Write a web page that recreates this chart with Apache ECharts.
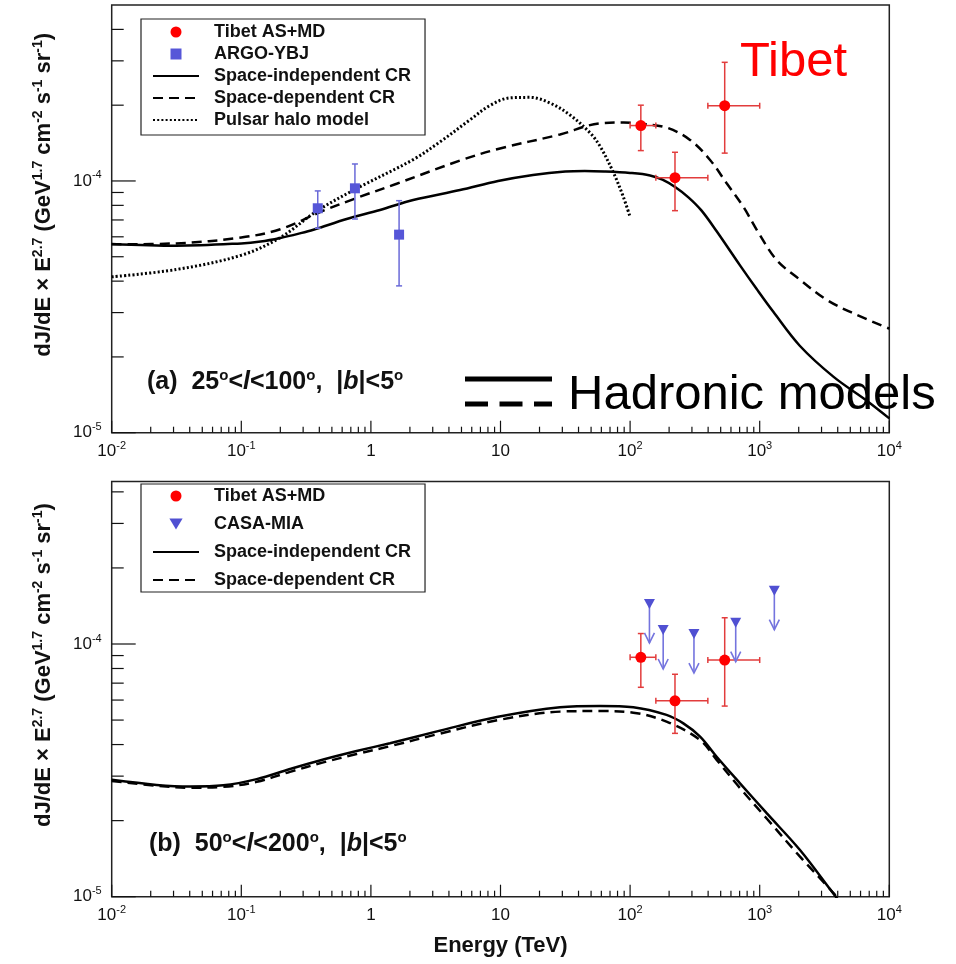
<!DOCTYPE html>
<html><head><meta charset="utf-8">
<script src="https://cdn.jsdelivr.net/npm/echarts@6/dist/echarts.min.js"></script>
<style>html,body{margin:0;padding:0;background:#fff}#c{width:956px;height:964px}</style>
</head><body><div id="c"></div>
<script>
// ---------- Panel (a) data ----------
const aTibetE   = [121, 222, 537];
const aTibetElo = [100, 158, 398];
const aTibetEhi = [158, 398, 1000];
const aTibetF   = [1.66e-4, 1.03e-4, 1.99e-4];
const aTibetFlo = [1.32e-4, 7.62e-5, 1.29e-4];
const aTibetFhi = [2.00e-4, 1.30e-4, 2.96e-4];

const argoE   = [0.389, 0.753, 1.65];
const argoF   = [7.79e-5, 9.35e-5, 6.12e-5];
const argoFlo = [6.49e-5, 7.06e-5, 3.83e-5];
const argoFhi = [9.13e-5, 1.168e-4, 8.35e-5];

const aSolidE = [0.01, 0.0316, 0.1, 0.141, 0.2, 0.282, 0.36, 0.65, 1.175, 2.12, 4.87, 9.57, 17.8, 31.6, 44.7, 63.1, 100, 142.6, 177.8, 223.9, 281.8, 354.8, 465.6, 704.7, 948, 1274, 2046, 3698, 6699, 10000];
const aSolidF = [5.62e-5, 5.53e-5, 5.65e-5, 5.75e-5, 5.94e-5, 6.19e-5, 6.40e-5, 7.06e-5, 7.67e-5, 8.40e-5, 9.20e-5, 1.0e-4, 1.057e-4, 1.091e-4, 1.096e-4, 1.091e-4, 1.076e-4, 1.052e-4, 1.012e-4, 9.44e-5, 8.61e-5, 7.64e-5, 6.31e-5, 4.62e-5, 3.72e-5, 3.02e-5, 2.21e-5, 1.67e-5, 1.34e-5, 1.14e-5];

const aDashE = [0.01, 0.0316, 0.1, 0.2, 0.43, 0.777, 1.58, 4.87, 9.57, 28.8, 58.6, 89.1, 120.8, 191, 290, 414, 556, 746, 971, 1352, 2046, 3289, 5272, 10000];
const aDashF = [5.60e-5, 5.65e-5, 5.96e-5, 6.43e-5, 7.62e-5, 8.56e-5, 9.75e-5, 1.205e-4, 1.34e-4, 1.53e-4, 1.694e-4, 1.706e-4, 1.687e-4, 1.63e-4, 1.456e-4, 1.212e-4, 9.79e-5, 7.91e-5, 6.27e-5, 4.85e-5, 4.05e-5, 3.37e-5, 2.98e-5, 2.59e-5];

const aDotE = [0.01, 0.0316, 0.1, 0.2, 0.382, 0.776, 2.12, 3.41, 5.82, 8.30, 11.8, 16.9, 24.1, 34.4, 49.1, 58.6, 74.1, 88.5, 99.8];
const aDotF = [4.16e-5, 4.45e-5, 5.07e-5, 5.96e-5, 7.59e-5, 9.33e-5, 1.216e-4, 1.429e-4, 1.750e-4, 1.995e-4, 2.138e-4, 2.148e-4, 2.04e-4, 1.828e-4, 1.552e-4, 1.374e-4, 1.084e-4, 8.67e-5, 7.21e-5];

// ---------- Panel (b) data ----------
const bTibetE   = [121, 222, 537];
const bTibetElo = [100, 158, 398];
const bTibetEhi = [158, 398, 1000];
const bTibetF   = [8.86e-5, 5.96e-5, 8.64e-5];
const bTibetFlo = [6.74e-5, 4.43e-5, 5.68e-5];
const bTibetFhi = [1.10e-4, 7.59e-5, 1.27e-4];

const casaE = [141, 180, 311, 653, 1297];
const casaF = [1.44e-4, 1.136e-4, 1.095e-4, 1.214e-4, 1.625e-4];

const bSolidE = [0.01, 0.0222, 0.0402, 0.0726, 0.1315, 0.2377, 0.4295, 0.776, 1.403, 3.41, 9.57, 28.8, 58.6, 105.9, 191, 257.6, 346.7, 465.6, 704.7, 1132, 2046, 3698, 4467];
const bSolidF = [2.90e-5, 2.77e-5, 2.73e-5, 2.76e-5, 2.92e-5, 3.20e-5, 3.49e-5, 3.77e-5, 4.05e-5, 4.54e-5, 5.15e-5, 5.62e-5, 5.69e-5, 5.62e-5, 5.24e-5, 4.85e-5, 4.30e-5, 3.58e-5, 2.81e-5, 2.14e-5, 1.53e-5, 1.03e-5, 9.1e-6];

const bDashE = [0.01, 0.0222, 0.0402, 0.0726, 0.1315, 0.2377, 0.4295, 0.776, 1.403, 3.41, 9.57, 28.8, 58.6, 105.9, 191, 346.7, 465.6, 704.7, 1132, 2046, 3926, 4786];
const bDashF = [2.87e-5, 2.75e-5, 2.70e-5, 2.72e-5, 2.85e-5, 3.12e-5, 3.40e-5, 3.67e-5, 3.94e-5, 4.42e-5, 5.00e-5, 5.40e-5, 5.43e-5, 5.35e-5, 4.93e-5, 4.17e-5, 3.48e-5, 2.69e-5, 2.04e-5, 1.44e-5, 1.0e-5, 8.7e-6];

// ---------- axes / ticks ----------
const xMin = 0.01, xMax = 1e4;
const yMin = 1e-5, yMaxA = 5e-4, yMaxB = 4.4e-4;
const xDecades = [0.01, 0.1, 1, 10, 100, 1000, 10000];
const yDecades = [1e-5, 1e-4];
const minorMult = [2, 3, 4, 5, 6, 7, 8, 9];

const FONT = '"Liberation Sans", Arial, Helvetica, sans-serif';

function pairs(xs, ys) { return xs.map((x, i) => [x, ys[i]]); }
function errData(xs, xl, xh, ys, yl, yh) { return xs.map((x, i) => [x, ys[i], xl[i], xh[i], yl[i], yh[i]]); }

function xTickData(yv) {
  const out = [];
  xDecades.forEach((d, i) => {
    out.push([d, yv, 1]);
    if (i < xDecades.length - 1) minorMult.forEach(m => out.push([m * d, yv, 0]));
  });
  return out;
}
function yTickData(ymax) {
  const out = [];
  yDecades.forEach(d => {
    out.push([xMin, d, 1]);
    minorMult.forEach(m => { if (m * d < ymax * 0.999) out.push([xMin, m * d, 0]); });
  });
  return out;
}

function xTickRender(params, api) {
  const cs = params.coordSys;
  const x = api.coord([api.value(0), api.value(1)])[0];
  const yb = cs.y + cs.height;
  const len = api.value(2) ? 12 : 6;
  return { type: 'line', shape: { x1: x, y1: yb, x2: x, y2: yb - len }, style: { stroke: '#111', lineWidth: 1.2 } };
}
function yTickRender(params, api) {
  const cs = params.coordSys;
  const y = api.coord([api.value(0), api.value(1)])[1];
  const xl = cs.x;
  const len = api.value(2) ? 24 : 12;
  return { type: 'line', shape: { x1: xl, y1: y, x2: xl + len, y2: y }, style: { stroke: '#111', lineWidth: 1.2 } };
}

function errRender(color, cap) {
  return function (params, api) {
    const x = api.value(0), y = api.value(1);
    const xl = api.value(2), xh = api.value(3), yl = api.value(4), yh = api.value(5);
    const c = api.coord([x, y]);
    const pl = api.coord([x, yl]), ph = api.coord([x, yh]);
    const st = { stroke: color, lineWidth: 1.5 };
    const ch = [
      { type: 'line', shape: { x1: c[0], y1: pl[1], x2: c[0], y2: ph[1] }, style: st },
      { type: 'line', shape: { x1: c[0] - cap, y1: pl[1], x2: c[0] + cap, y2: pl[1] }, style: st },
      { type: 'line', shape: { x1: c[0] - cap, y1: ph[1], x2: c[0] + cap, y2: ph[1] }, style: st }
    ];
    if (xh > xl) {
      const ql = api.coord([xl, y]), qh = api.coord([xh, y]);
      ch.push({ type: 'line', shape: { x1: ql[0], y1: c[1], x2: qh[0], y2: c[1] }, style: st });
      ch.push({ type: 'line', shape: { x1: ql[0], y1: c[1] - cap, x2: ql[0], y2: c[1] + cap }, style: st });
      ch.push({ type: 'line', shape: { x1: qh[0], y1: c[1] - cap, x2: qh[0], y2: c[1] + cap }, style: st });
    }
    return { type: 'group', children: ch };
  };
}
function arrowRender(params, api) {
  const c = api.coord([api.value(0), api.value(1)]);
  const st = { stroke: '#7474de', lineWidth: 1.6 };
  const L = 39;
  return { type: 'group', children: [
    { type: 'line', shape: { x1: c[0], y1: c[1], x2: c[0], y2: c[1] + L }, style: st },
    { type: 'polyline', shape: { points: [[c[0] - 5, c[1] + L - 10], [c[0], c[1] + L], [c[0] + 5, c[1] + L - 10]] }, style: Object.assign({ fill: null }, st) }
  ] };
}

function expFmt(v) {
  const lg = Math.log10(v);
  const e = Math.round(lg);
  if (Math.abs(lg - e) > 1e-6) return '';
  if (e === 0) return '1';
  if (e === 1) return '10';
  return '10{sup|' + e + '}';
}

const labelStyle = {
  formatter: expFmt, fontFamily: FONT, fontSize: 17, color: '#111', lineHeight: 22,
  rich: { sup: { fontFamily: FONT, fontSize: 11, color: '#111', verticalAlign: 'top', lineHeight: 22 } }
};

const yName = 'dJ/dE × E{sup|2.7} (GeV{sup|1.7} cm{sup|-2} s{sup|-1} sr{sup|-1})';
const yNameStyle = {
  fontFamily: FONT, fontSize: 22, fontWeight: 'bold', color: '#111', lineHeight: 26, padding: [0, 0, 0, 48],
  rich: { sup: { fontFamily: FONT, fontSize: 14, fontWeight: 'bold', color: '#111', verticalAlign: 'top', lineHeight: 26 } }
};

function xAxisCfg(gi, withName) {
  const a = {
    type: 'log', logBase: 10, gridIndex: gi, min: xMin, max: xMax, interval: 1,
    axisLine: { show: false }, axisTick: { show: false }, splitLine: { show: false }, minorTick: { show: false },
    axisLabel: Object.assign({ margin: 8 }, labelStyle)
  };
  if (withName) {
    a.name = 'Energy (TeV)'; a.nameLocation = 'middle'; a.nameGap = 37;
    a.nameTextStyle = { fontFamily: FONT, fontSize: 22, fontWeight: 'bold', color: '#111', lineHeight: 24 };
  }
  return a;
}
function yAxisCfg(gi, ymax) {
  return {
    type: 'log', logBase: 10, gridIndex: gi, min: yMin, max: ymax, interval: 1,
    axisLine: { show: false }, axisTick: { show: false }, splitLine: { show: false }, minorTick: { show: false },
    axisLabel: Object.assign({ margin: 10 }, labelStyle),
    name: yName, nameLocation: 'middle', nameRotate: 90, nameGap: 55, nameTextStyle: yNameStyle
  };
}

const solidStyle = { color: '#000', width: 2.5, type: 'solid' };
const dashStyle = { color: '#000', width: 2.5, type: [10, 6] };
const dotStyle = { color: '#000', width: 3, type: [2, 2.2] };

function lineSeries(name, gi, data, ls) {
  return { type: 'line', name, xAxisIndex: gi, yAxisIndex: gi, data, symbol: 'none', smooth: 0.35,
           lineStyle: ls, itemStyle: { color: '#000' }, clip: true, z: 3, silent: true };
}

const legendCommon = {
  orient: 'vertical', left: 141, itemWidth: 46, itemHeight: 11, selectedMode: false,
  borderColor: '#222', borderWidth: 1.2, backgroundColor: '#fff', borderRadius: 0,
  textStyle: { fontFamily: FONT, fontWeight: 'bold', fontSize: 18, color: '#111', lineHeight: 18, padding: [0, 0, 0, 10] }
};
const noSym = { opacity: 0 };

const option = {
  animation: false,
  backgroundColor: '#fff',
  grid: [
    { left: 111.7, top: 5, width: 777.6, height: 427.7, show: true, borderColor: '#222', borderWidth: 1.5, backgroundColor: 'transparent', containLabel: false, outerBoundsMode: 'none' },
    { left: 111.7, top: 481.4, width: 777.6, height: 415.3, show: true, borderColor: '#222', borderWidth: 1.5, backgroundColor: 'transparent', containLabel: false, outerBoundsMode: 'none' }
  ],
  xAxis: [xAxisCfg(0, false), xAxisCfg(1, true)],
  yAxis: [yAxisCfg(0, yMaxA), yAxisCfg(1, yMaxB)],
  legend: [
    Object.assign({}, legendCommon, { top: 19, itemGap: 4, padding: [4, 14, 6, 11],
      data: [
        { name: 'Tibet AS+MD' },
        { name: 'ARGO-YBJ', icon: 'path://M0,0H10V10H0Z' },
        { name: 'Space-independent CR', itemStyle: noSym },
        { name: 'Space-dependent CR', itemStyle: noSym },
        { name: 'Pulsar halo model', itemStyle: noSym }
      ] }),
    Object.assign({}, legendCommon, { top: 484, itemGap: 10, padding: [3, 14, 3, 11],
      data: [
        { name: 'Tibet AS+MD' },
        { name: 'CASA-MIA', icon: 'path://M0,0L12,0L6,10Z' },
        { name: 'Space-independent CR', itemStyle: noSym },
        { name: 'Space-dependent CR', itemStyle: noSym }
      ] })
  ],
  series: [
    // panel (a)
    lineSeries('Space-independent CR', 0, pairs(aSolidE, aSolidF), solidStyle),
    lineSeries('Space-dependent CR', 0, pairs(aDashE, aDashF), dashStyle),
    lineSeries('Pulsar halo model', 0, pairs(aDotE, aDotF), dotStyle),
    { type: 'custom', name: 'aTibetErr', xAxisIndex: 0, yAxisIndex: 0, encode: { x: 0, y: 1 }, silent: true, z: 4,
      renderItem: errRender('#e23c3c', 3), data: errData(aTibetE, aTibetElo, aTibetEhi, aTibetF, aTibetFlo, aTibetFhi) },
    { type: 'custom', name: 'argoErr', xAxisIndex: 0, yAxisIndex: 0, encode: { x: 0, y: 1 }, silent: true, z: 4,
      renderItem: errRender('#6a6ad8', 3), data: errData(argoE, argoE, argoE, argoF, argoFlo, argoFhi) },
    { type: 'scatter', name: 'Tibet AS+MD', xAxisIndex: 0, yAxisIndex: 0, symbol: 'circle', symbolSize: 11,
      itemStyle: { color: '#ff0000', opacity: 1 }, z: 5, data: pairs(aTibetE, aTibetF) },
    { type: 'scatter', name: 'ARGO-YBJ', xAxisIndex: 0, yAxisIndex: 0, symbol: 'rect', symbolSize: 10,
      itemStyle: { color: '#5656d8', opacity: 1 }, z: 5, data: pairs(argoE, argoF) },
    { type: 'custom', name: 'aXTicks', xAxisIndex: 0, yAxisIndex: 0, encode: { x: 0, y: 1 }, silent: true, z: 6,
      renderItem: xTickRender, data: xTickData(yMin) },
    { type: 'custom', name: 'aYTicks', xAxisIndex: 0, yAxisIndex: 0, encode: { x: 0, y: 1 }, silent: true, z: 6,
      renderItem: yTickRender, data: yTickData(yMaxA) },
    // panel (b)
    lineSeries('Space-independent CR', 1, pairs(bSolidE, bSolidF), solidStyle),
    lineSeries('Space-dependent CR', 1, pairs(bDashE, bDashF), dashStyle),
    { type: 'custom', name: 'bTibetErr', xAxisIndex: 1, yAxisIndex: 1, encode: { x: 0, y: 1 }, silent: true, z: 4,
      renderItem: errRender('#e23c3c', 3), data: errData(bTibetE, bTibetElo, bTibetEhi, bTibetF, bTibetFlo, bTibetFhi) },
    { type: 'custom', name: 'casaArrows', xAxisIndex: 1, yAxisIndex: 1, encode: { x: 0, y: 1 }, silent: true, z: 4,
      renderItem: arrowRender, data: pairs(casaE, casaF) },
    { type: 'scatter', name: 'Tibet AS+MD', xAxisIndex: 1, yAxisIndex: 1, symbol: 'circle', symbolSize: 11,
      itemStyle: { color: '#ff0000', opacity: 1 }, z: 5, data: pairs(bTibetE, bTibetF) },
    { type: 'scatter', name: 'CASA-MIA', xAxisIndex: 1, yAxisIndex: 1, symbol: 'triangle', symbolSize: [11, 10], symbolRotate: 180,
      itemStyle: { color: '#5050d2', opacity: 1 }, z: 5, data: pairs(casaE, casaF) },
    { type: 'custom', name: 'bXTicks', xAxisIndex: 1, yAxisIndex: 1, encode: { x: 0, y: 1 }, silent: true, z: 6,
      renderItem: xTickRender, data: xTickData(yMin) },
    { type: 'custom', name: 'bYTicks', xAxisIndex: 1, yAxisIndex: 1, encode: { x: 0, y: 1 }, silent: true, z: 6,
      renderItem: yTickRender, data: yTickData(yMaxB) }
  ],
  graphic: [
    { type: 'text', x: 147, y: 382, z: 10, style: {
        text: '(a)  25{s|o}<{i|l}<100{s|o},  |{i|b}|<5{s|o}', fontFamily: FONT, fontSize: 25, fontWeight: 'bold', fill: '#111',
        lineHeight: 28, verticalAlign: 'middle', align: 'left',
        rich: { s: { fontFamily: FONT, fontSize: 15, fontWeight: 'bold', fill: '#111', verticalAlign: 'top', lineHeight: 28 },
                i: { fontFamily: FONT, fontSize: 25, fontWeight: 'bold', fontStyle: 'italic', fill: '#111', lineHeight: 28 } } } },
    { type: 'text', x: 149, y: 844, z: 10, style: {
        text: '(b)  50{s|o}<{i|l}<200{s|o},  |{i|b}|<5{s|o}', fontFamily: FONT, fontSize: 25, fontWeight: 'bold', fill: '#111',
        lineHeight: 28, verticalAlign: 'middle', align: 'left',
        rich: { s: { fontFamily: FONT, fontSize: 15, fontWeight: 'bold', fill: '#111', verticalAlign: 'top', lineHeight: 28 },
                i: { fontFamily: FONT, fontSize: 25, fontWeight: 'bold', fontStyle: 'italic', fill: '#111', lineHeight: 28 } } } },
    { type: 'text', x: 740, y: 62, z: 10, style: { text: 'Tibet', fontFamily: FONT, fontSize: 49, fill: '#ff0000', verticalAlign: 'middle', align: 'left' } },
    { type: 'text', x: 568, y: 395, z: 10, style: { text: 'Hadronic models', fontFamily: FONT, fontSize: 49, fill: '#000', verticalAlign: 'middle', align: 'left' } },
    { type: 'line', z: 10, shape: { x1: 465, y1: 379, x2: 552, y2: 379 }, style: { stroke: '#000', lineWidth: 5 } },
    { type: 'line', z: 10, shape: { x1: 465, y1: 404, x2: 552, y2: 404 }, style: { stroke: '#000', lineWidth: 5, lineDash: [23, 11.5] } }
  ]
};

const chart = echarts.init(document.getElementById('c'), null, { renderer: 'canvas', width: 956, height: 964 });
chart.setOption(option);
</script></body></html>
